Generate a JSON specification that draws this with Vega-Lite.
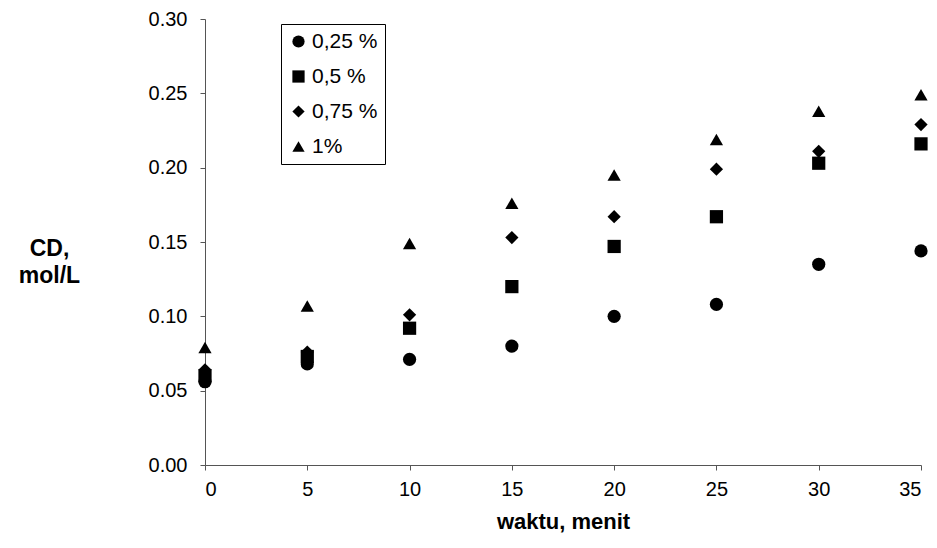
{
  "$schema": "https://vega.github.io/schema/vega-lite/v6.json",
  "width": 716,
  "height": 446,
  "autosize": "none",
  "padding": {"left": 205, "top": 19, "right": 16, "bottom": 83},
  "background": "white",
  "config": {
    "view": {"stroke": null},
    "font": "Liberation Sans"
  },
  "data": {
    "values": [
      {"waktu": 0, "C": 0.056, "seri": "0,25 %"},
      {"waktu": 5, "C": 0.068, "seri": "0,25 %"},
      {"waktu": 10, "C": 0.071, "seri": "0,25 %"},
      {"waktu": 15, "C": 0.080, "seri": "0,25 %"},
      {"waktu": 20, "C": 0.100, "seri": "0,25 %"},
      {"waktu": 25, "C": 0.108, "seri": "0,25 %"},
      {"waktu": 30, "C": 0.135, "seri": "0,25 %"},
      {"waktu": 35, "C": 0.144, "seri": "0,25 %"},
      {"waktu": 0, "C": 0.060, "seri": "0,5 %"},
      {"waktu": 5, "C": 0.073, "seri": "0,5 %"},
      {"waktu": 10, "C": 0.092, "seri": "0,5 %"},
      {"waktu": 15, "C": 0.120, "seri": "0,5 %"},
      {"waktu": 20, "C": 0.147, "seri": "0,5 %"},
      {"waktu": 25, "C": 0.167, "seri": "0,5 %"},
      {"waktu": 30, "C": 0.203, "seri": "0,5 %"},
      {"waktu": 35, "C": 0.216, "seri": "0,5 %"},
      {"waktu": 0, "C": 0.064, "seri": "0,75 %"},
      {"waktu": 5, "C": 0.076, "seri": "0,75 %"},
      {"waktu": 10, "C": 0.101, "seri": "0,75 %"},
      {"waktu": 15, "C": 0.153, "seri": "0,75 %"},
      {"waktu": 20, "C": 0.167, "seri": "0,75 %"},
      {"waktu": 25, "C": 0.199, "seri": "0,75 %"},
      {"waktu": 30, "C": 0.211, "seri": "0,75 %"},
      {"waktu": 35, "C": 0.229, "seri": "0,75 %"},
      {"waktu": 0, "C": 0.079, "seri": "1%"},
      {"waktu": 5, "C": 0.107, "seri": "1%"},
      {"waktu": 10, "C": 0.149, "seri": "1%"},
      {"waktu": 15, "C": 0.176, "seri": "1%"},
      {"waktu": 20, "C": 0.195, "seri": "1%"},
      {"waktu": 25, "C": 0.219, "seri": "1%"},
      {"waktu": 30, "C": 0.238, "seri": "1%"},
      {"waktu": 35, "C": 0.249, "seri": "1%"}
    ]
  },
  "mark": {"type": "point", "filled": true, "opacity": 1, "color": "black"},
  "encoding": {
    "x": {
      "field": "waktu",
      "type": "quantitative",
      "scale": {"domain": [0, 35], "nice": false, "zero": true},
      "axis": {
        "title": "waktu, menit",
        "values": [0, 5, 10, 15, 20, 25, 30, 35],
        "grid": false,
        "domainColor": "#555555",
        "tickColor": "#555555",
        "tickSize": 5,
        "labelFontSize": 20,
        "labelColor": "black",
        "labelPadding": 9,
        "titleFontSize": 22,
        "titleFontWeight": "bold",
        "titleColor": "black",
        "titlePadding": 12
      }
    },
    "y": {
      "field": "C",
      "type": "quantitative",
      "scale": {"domain": [0, 0.3], "nice": false},
      "axis": {
        "title": ["CD,", "mol/L"],
        "values": [0, 0.05, 0.1, 0.15, 0.2, 0.25, 0.3],
        "format": ".2f",
        "grid": false,
        "domainColor": "#555555",
        "tickColor": "#555555",
        "tickSize": 5,
        "labelFontSize": 20,
        "labelColor": "black",
        "labelPadding": 13,
        "titleFontSize": 23,
        "titleFontWeight": "bold",
        "titleColor": "black",
        "titleAngle": 0,
        "titleAlign": "center",
        "titleBaseline": "middle",
        "titleX": -156,
        "titleY": 229,
        "titleLineHeight": 27
      }
    },
    "shape": {
      "field": "seri",
      "type": "nominal",
      "scale": {
        "domain": ["0,25 %", "0,5 %", "0,75 %", "1%"],
        "range": ["circle", "square", "diamond", "triangle-up"]
      },
      "legend": {
        "title": null,
        "orient": "none",
        "legendX": 76,
        "legendY": 5,
        "strokeColor": "black",
        "fillColor": "white",
        "padding": 7,
        "labelFontSize": 21,
        "labelColor": "black",
        "symbolFillColor": "black",
        "symbolStrokeColor": "black",
        "symbolSize": 150,
        "symbolOpacity": 1,
        "rowPadding": 13,
        "labelOffset": 3
      }
    },
    "size": {"value": 175}
  }
}
